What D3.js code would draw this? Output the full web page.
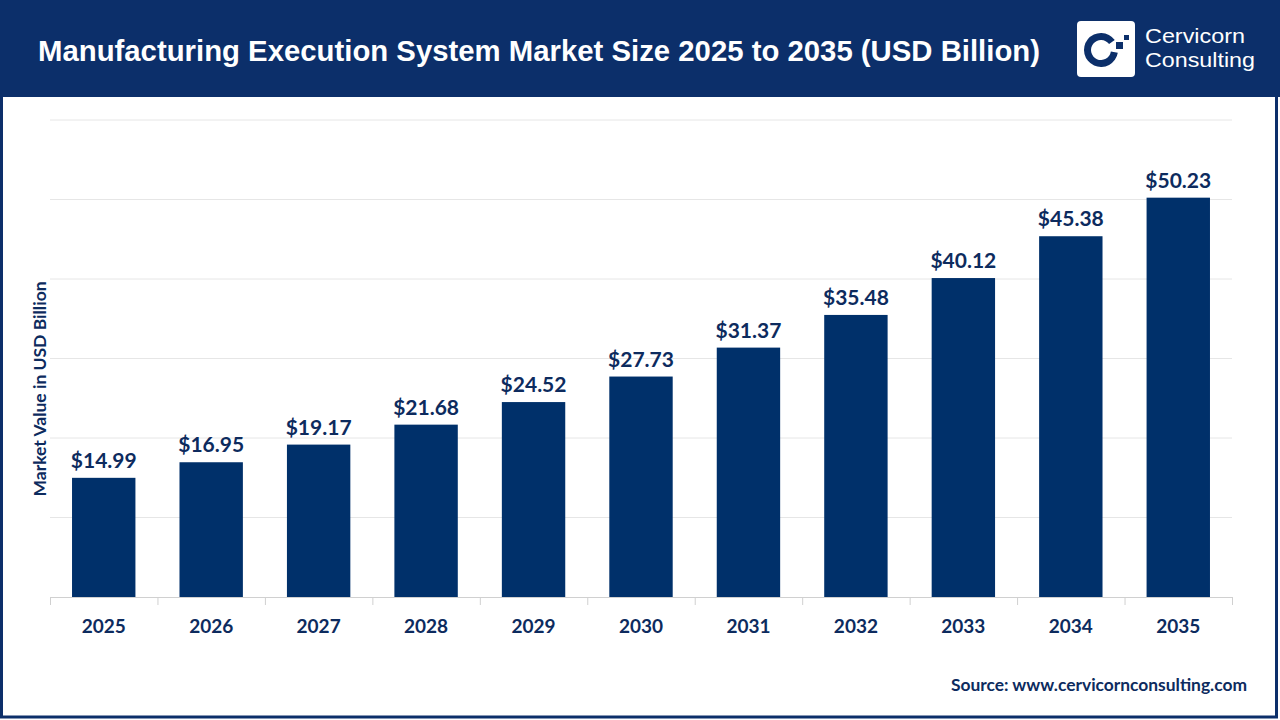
<!DOCTYPE html>
<html><head><meta charset="utf-8">
<script src="https://cdn.jsdelivr.net/npm/d3@7"></script>
<style>body{margin:0;background:#fff}svg{display:block}</style>
</head><body>
<svg id="c" width="1280" height="720"></svg>
<script>
const years = ["2025","2026","2027","2028","2029","2030","2031","2032","2033","2034","2035"];
const values = [14.99,16.95,19.17,21.68,24.52,27.73,31.37,35.48,40.12,45.38,50.23];
const yTicks = [0,10,20,30,40,50,60];
const title = "Manufacturing Execution System Market Size 2025 to 2035 (USD Billion)";
const yLabel = "Market Value in USD Billion";
const source = "Source: www.cervicornconsulting.com";

const navy = "#0c2f6a", bar = "#00306a", txt = "#0d2b5e";
const svg = d3.select("#c");
svg.append("rect").attr("x",0).attr("y",0).attr("width",1280).attr("height",720).attr("fill","#fff");
svg.append("rect").attr("x",1.5).attr("y",1.5).attr("width",1275).attr("height",715.5).attr("fill","none").attr("stroke",navy).attr("stroke-width",3);
svg.append("rect").attr("x",0).attr("y",0).attr("width",1280).attr("height",97).attr("fill",navy);
svg.append("text").attr("x",38).attr("y",61).attr("fill","#fff").attr("font-family","Liberation Sans, Arial, sans-serif").attr("font-weight","bold").attr("font-size",29).attr("textLength",1002).attr("lengthAdjust","spacingAndGlyphs").text(title);
// logo
const lg = svg.append("g");
lg.append("rect").attr("x",1077).attr("y",21).attr("width",58).attr("height",56).attr("rx",4).attr("fill","#fff");
const arc = d3.arc().innerRadius(10).outerRadius(17);
lg.append("path").attr("transform","translate(1101,50)").attr("d",arc({startAngle:Math.PI*0.55,endAngle:Math.PI*2.3})).attr("fill",navy);
lg.append("rect").attr("x",1116).attr("y",42).attr("width",7).attr("height",7).attr("fill",navy);
lg.append("rect").attr("x",1124).attr("y",35).attr("width",5).attr("height",5).attr("fill",navy);
lg.append("text").attr("x",1145).attr("y",43).attr("fill","#fff").attr("font-family","Liberation Sans, sans-serif").attr("font-size",21).attr("textLength",100).attr("lengthAdjust","spacingAndGlyphs").text("Cervicorn");
lg.append("text").attr("x",1145).attr("y",67).attr("fill","#fff").attr("font-family","Liberation Sans, sans-serif").attr("font-size",21).attr("textLength",110).attr("lengthAdjust","spacingAndGlyphs").text("Consulting");

const x = d3.scaleBand().domain(years).range([50,1232]).paddingInner(0.41).paddingOuter(0.205);
const y = d3.scaleLinear().domain([0,60]).range([597,120]);
svg.append("g").selectAll("line").data(yTicks.slice(1)).join("line")
  .attr("x1",50).attr("x2",1232).attr("y1",d=>y(d)).attr("y2",d=>y(d)).attr("stroke","#e6e6e6").attr("stroke-width",1);
svg.append("g").selectAll("rect").data(values).join("rect")
  .attr("x",(d,i)=>x(years[i])).attr("width",x.bandwidth()).attr("y",d=>y(d)).attr("height",d=>y(0)-y(d)).attr("fill",bar);
svg.append("g").selectAll("text").data(values).join("text")
  .attr("x",(d,i)=>x(years[i])+x.bandwidth()/2).attr("y",d=>y(d)-10).attr("text-anchor","middle")
  .attr("fill",txt).attr("font-family","Lato, sans-serif").attr("font-weight","bold").attr("font-size",21)
  .text(d=>"$"+d.toFixed(2));
const step = x.step();
const ax = svg.append("g");
ax.append("line").attr("x1",50).attr("x2",1232).attr("y1",597.5).attr("y2",597.5).attr("stroke","#d0d0d0");
ax.selectAll("line.t").data(d3.range(years.length+1)).join("line").attr("class","t")
  .attr("x1",i=>50+i*step+0.5).attr("x2",i=>50+i*step+0.5).attr("y1",597).attr("y2",605).attr("stroke","#d0d0d0");
ax.selectAll("text").data(years).join("text")
  .attr("x",d=>x(d)+x.bandwidth()/2).attr("y",633).attr("text-anchor","middle")
  .attr("fill",txt).attr("font-family","Lato, sans-serif").attr("font-weight","bold").attr("font-size",19).text(d=>d);
svg.append("text").attr("transform","translate(46,389) rotate(-90)").attr("text-anchor","middle")
  .attr("fill",txt).attr("font-family","Lato, sans-serif").attr("font-weight","bold").attr("font-size",17.5).text(yLabel);
svg.append("text").attr("x",1247).attr("y",691).attr("text-anchor","end")
  .attr("fill",txt).attr("font-family","Lato, sans-serif").attr("font-weight","bold").attr("font-size",17.4).text(source);
</script>
</body></html>
